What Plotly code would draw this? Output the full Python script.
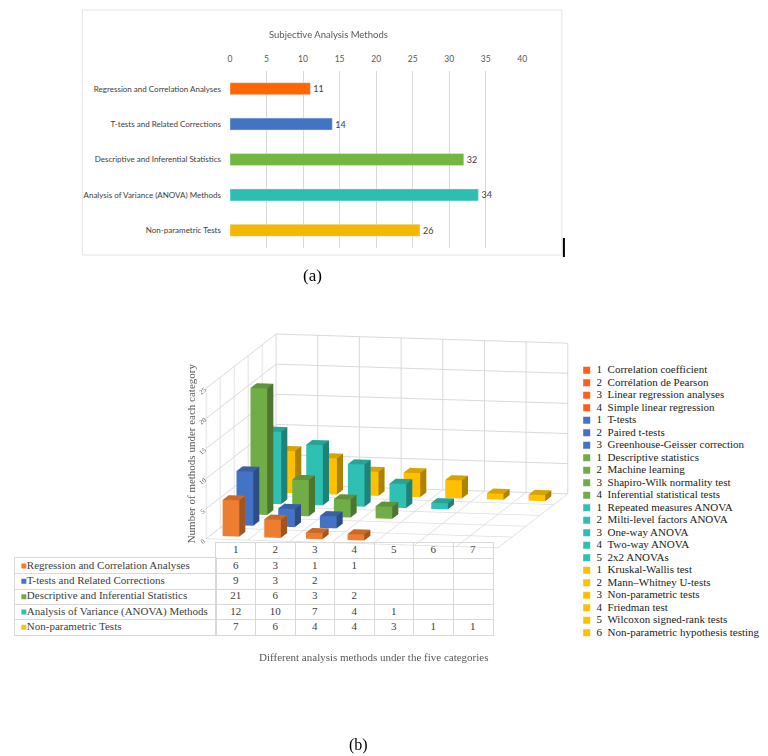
import plotly.graph_objects as go

# data
categories = ['Regression and Correlation Analyses', 'T-tests and Related Corrections',
              'Descriptive and Inferential Statistics', 'Analysis of Variance (ANOVA) Methods',
              'Non-parametric Tests']
totals = [11, 14, 32, 34, 26]

positions = [1, 2, 3, 4, 5, 6, 7]
regression = [6, 3, 1, 1]
ttests = [9, 3, 2]
descriptive = [21, 6, 3, 2]
anova = [12, 10, 7, 4, 1]
nonparam = [7, 6, 4, 4, 3, 1, 1]
series = [regression, ttests, descriptive, anova, nonparam]

methods_regression = ['Correlation coefficient', 'Corrélation de Pearson',
                      'Linear regression analyses', 'Simple linear regression']
methods_ttests = ['T-tests', 'Paired t-tests', 'Greenhouse-Geisser correction']
methods_descriptive = ['Descriptive statistics', 'Machine learning',
                       'Shapiro-Wilk normality test', 'Inferential statistical tests']
methods_anova = ['Repeated measures ANOVA', 'Milti-level factors ANOVA', 'One-way ANOVA',
                 'Two-way ANOVA', '2x2 ANOVAs']
methods_nonparam = ['Kruskal-Wallis test', 'Mann–Whitney U-tests', 'Non-parametric tests',
                    'Friedman test', 'Wilcoxon signed-rank tests',
                    'Non-parametric hypothesis testing']
methods = [methods_regression, methods_ttests, methods_descriptive, methods_anova, methods_nonparam]

colors_a = ['#FF6600', '#4472C4', '#72B83F', '#2CBFB1', '#F5B800']
colors_b = ['#ED7D31', '#4472C4', '#70AD47', '#2EC0B2', '#FFC000']
colors_legend = ['#FF5F1A', '#4472C4', '#70AD47', '#2EC0B2', '#FFC000']

W, H = 768, 756


def px(x):
    return x / W


def py(y):
    return 1 - y / H


def shade(hexcol, f):
    r, g, b = int(hexcol[1:3], 16), int(hexcol[3:5], 16), int(hexcol[5:7], 16)
    if f < 1:
        r, g, b = r * f, g * f, b * f
    else:
        r, g, b = r + (255 - r) * (f - 1), g + (255 - g) * (f - 1), b + (255 - b) * (f - 1)
    return 'rgb(%d,%d,%d)' % (r, g, b)


fig = go.Figure()

# (a) horizontal bars
fig.add_trace(go.Bar(
    x=totals, y=categories, orientation='h', width=0.34,
    marker=dict(color=colors_a), text=totals, textposition='outside',
    textfont=dict(family='Lato', size=9, color='#404040'),
    cliponaxis=False, showlegend=False, xaxis='x', yaxis='y'))

# (b) 3D bars as boxes
hw, hd = 0.2, 0.22
for s, vals in enumerate(series):
    xs, ys, zs, ii, jj, kk, fc = [], [], [], [], [], [], []
    base = colors_b[s]
    for p, h in zip(positions, vals):
        n = len(xs)
        x0, x1, y0, y1 = p - hw, p + hw, s - hd, s + hd
        for (a, b, c) in [(x0, y0, 0), (x1, y0, 0), (x1, y1, 0), (x0, y1, 0),
                          (x0, y0, h), (x1, y0, h), (x1, y1, h), (x0, y1, h)]:
            xs.append(a)
            ys.append(b)
            zs.append(c)
        faces = [((0, 1, 5), 1.0), ((0, 5, 4), 1.0),
                 ((1, 2, 6), 0.68), ((1, 6, 5), 0.68),
                 ((4, 5, 6), 0.85), ((4, 6, 7), 0.85),
                 ((3, 7, 6), 1.0), ((3, 6, 2), 1.0),
                 ((0, 4, 7), 1.0), ((0, 7, 3), 1.0),
                 ((0, 3, 2), 1.0), ((0, 2, 1), 1.0)]
        for (a, b, c), f in faces:
            ii.append(n + a)
            jj.append(n + b)
            kk.append(n + c)
            fc.append(shade(base, f))
    fig.add_trace(go.Mesh3d(
        x=xs, y=ys, z=zs, i=ii, j=jj, k=kk, facecolor=fc, flatshading=True,
        lighting=dict(ambient=1, diffuse=0, specular=0, roughness=1, fresnel=0),
        hoverinfo='skip', showlegend=False, scene='scene'))

# data table under the 3D chart: numbers on a grid axis
tab_x, tab_y, tab_t = [], [], []
for p in positions:
    tab_x.append(p)
    tab_y.append(-1)
    tab_t.append(str(p))
for s, vals in enumerate(series):
    for p, v in zip(positions, vals):
        tab_x.append(p)
        tab_y.append(s)
        tab_t.append(str(v))

tfont = dict(family='Liberation Serif', size=11, color='#404040')
fig.add_trace(go.Scatter(
    x=tab_x, y=tab_y, text=tab_t, mode='text', textposition='middle center',
    textfont=tfont, hoverinfo='skip', showlegend=False, xaxis='x5', yaxis='y5'))

# first column: series names with colour keys
fig.add_trace(go.Scatter(
    x=[9] * len(categories), y=list(range(len(categories))), mode='markers',
    marker=dict(symbol='square', size=5, color=colors_b),
    hoverinfo='skip', showlegend=False, xaxis='x6', yaxis='y6'))
fig.add_trace(go.Scatter(
    x=[12] * len(categories), y=list(range(len(categories))), mode='text',
    text=categories, textposition='middle right', textfont=tfont,
    hoverinfo='skip', showlegend=False, cliponaxis=False, xaxis='x6', yaxis='y6'))

# legend of methods, drawn on a hidden axis
leg_y, leg_c, leg_t = [], [], []
idx = 0
for s, group in enumerate(methods):
    for m, name in enumerate(group):
        leg_y.append(idx)
        leg_c.append(colors_legend[s])
        leg_t.append('%d\u00a0 %s' % (m + 1, name))
        idx += 1

fig.add_trace(go.Scatter(
    x=[0] * len(leg_y), y=leg_y, mode='markers',
    marker=dict(symbol='square', size=7, color=leg_c),
    hoverinfo='skip', showlegend=False, xaxis='x3', yaxis='y3'))
fig.add_trace(go.Scatter(
    x=[1.0] * len(leg_y), y=leg_y, mode='text', text=leg_t, textposition='middle right',
    textfont=dict(family='Liberation Serif', size=11, color='#222222'),
    hoverinfo='skip', showlegend=False, cliponaxis=False, xaxis='x3', yaxis='y3'))


def note(text, x, y, size, color, family='Liberation Serif', angle=0):
    return dict(text=text, x=px(x), y=py(y), xref='paper', yref='paper', showarrow=False,
                xanchor='center', yanchor='middle', textangle=angle,
                font=dict(family=family, size=size, color=color))


grid = '#d9d9d9'
rh = (627 - 535) / 6.0
tab_axis = dict(visible=True, showticklabels=False, ticks='', zeroline=False,
                showgrid=True, gridcolor=grid, showline=True, linecolor=grid, mirror=True)

# camera direction: azimuth 11.4 deg, elevation 9 deg
cam = (0.195, -0.968, 0.156)

fig.update_layout(
    width=W, height=H, margin=dict(l=0, r=0, t=0, b=0),
    paper_bgcolor='white', plot_bgcolor='white',
    font=dict(family='Lato', color='#404040'),
    xaxis=dict(domain=[px(222), px(517)], range=[0, 40], side='top', dtick=5,
               showgrid=True, gridcolor=grid, zeroline=False, showline=False,
               tickfont=dict(family='Lato', size=8.5, color='#595959'), ticks='',
               ticklabelstandoff=6),
    yaxis=dict(domain=[py(240), py(63)], autorange='reversed', showgrid=False,
               tickfont=dict(family='Lato', size=8, color='#404040'), ticks='',
               ticklabelstandoff=8),
    xaxis3=dict(domain=[px(566), px(768)], range=[-1.6, 18.6], visible=False, anchor='y3'),
    yaxis3=dict(domain=[py(631), py(356)], range=[21.5, -0.5], visible=False, anchor='x3'),
    xaxis5=dict(domain=[px(208), px(487)], range=[0.5, 7.5], anchor='y5',
                tickvals=[0.5 + k for k in range(8)], **tab_axis),
    yaxis5=dict(domain=[py(627), py(535)], range=[4.5, -1.5], anchor='x5',
                tickvals=[-1.5 + k for k in range(7)], **tab_axis),
    xaxis6=dict(domain=[px(5), px(208)], range=[0, 203], tickvals=[], anchor='y6', **tab_axis),
    yaxis6=dict(domain=[py(627), py(535 + rh)], range=[4.5, -0.5], anchor='x6',
                tickvals=[-0.5 + k for k in range(6)], **tab_axis),
    scene=dict(
        domain=dict(x=[px(181), px(581)], y=[py(553), py(313)]),
        aspectmode='manual', aspectratio=dict(x=2.48, y=2.95, z=1.27),
        camera=dict(eye=dict(x=cam[0] * 5, y=cam[1] * 5, z=cam[2] * 5),
                    center=dict(x=0, y=0, z=0), projection=dict(type='orthographic')),
        xaxis=dict(range=[0.5, 7.5], tickvals=[0.5 + k for k in range(8)],
                   showticklabels=False, title='', gridcolor=grid, showbackground=False,
                   zeroline=False, showspikes=False),
        yaxis=dict(range=[-0.5, 4.5], tickvals=[-0.5 + k for k in range(6)],
                   showticklabels=False, title='', gridcolor=grid, showbackground=False,
                   zeroline=False, showspikes=False),
        zaxis=dict(range=[0, 25], tickvals=[0, 5, 10, 15, 20, 25], title='',
                   tickfont=dict(family='Liberation Serif', size=9, color='#595959'),
                   gridcolor=grid, showbackground=False, zeroline=False, showspikes=False)),
    shapes=[
        dict(type='rect', xref='paper', yref='paper', x0=px(73), x1=px(557),
             y0=py(247), y1=py(2), line=dict(color='#e4e4e4', width=1)),
        dict(type='line', xref='paper', yref='paper', x0=px(559), x1=px(559),
             y0=py(249), y1=py(230), line=dict(color='black', width=2)),
    ],
    annotations=[
        note('Subjective Analysis Methods', 321, 26, 9.5, '#595959', family='Lato'),
        note('(a)', 305, 267, 17, 'black'),
        note('Number of methods under each category', 183, 445, 11, '#595959', angle=-90),
        note('Different analysis methods under the five categories', 367, 649, 11, '#595959'),
        note('(b)', 352, 737, 16, 'black'),
    ],
)

fig.write_html('out.html')
